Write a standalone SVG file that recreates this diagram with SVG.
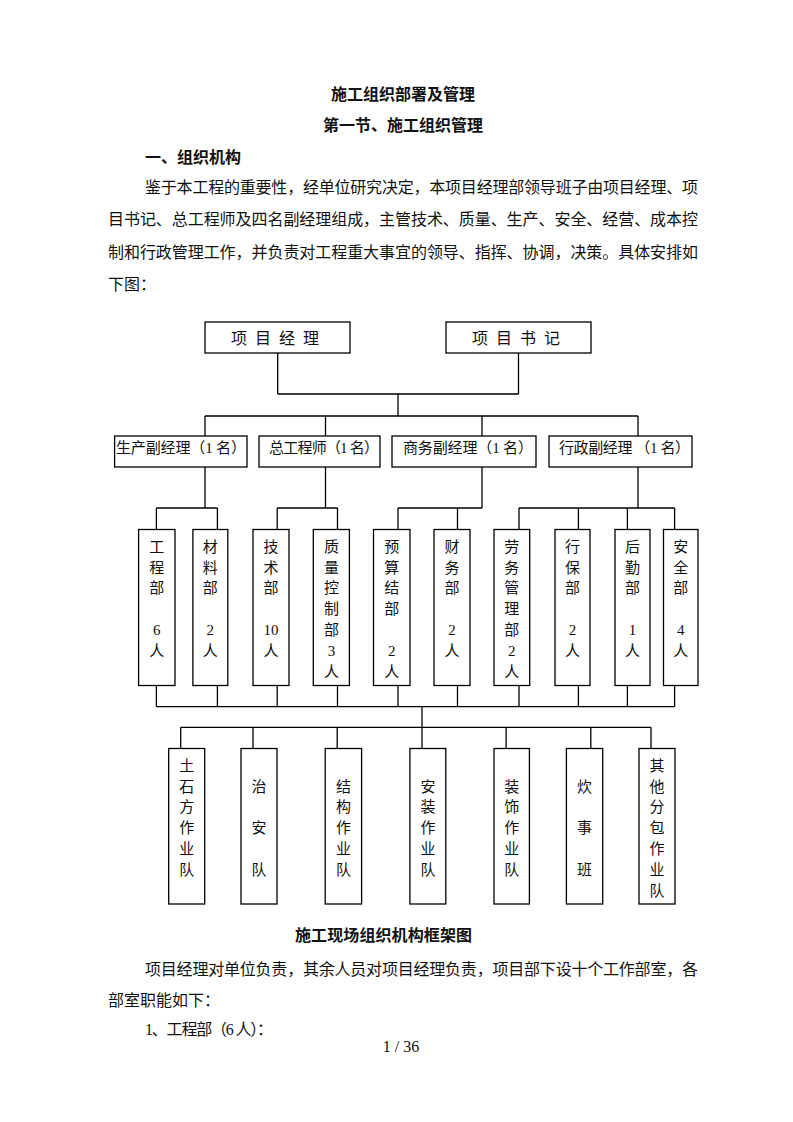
<svg xmlns="http://www.w3.org/2000/svg" width="793" height="1122" viewBox="0 0 793 1122">
<style>
.bg{fill:#fff}
.box{fill:#fff;stroke:#000;stroke-width:1.3}
.ln{fill:none;stroke:#000;stroke-width:1.3}
text{font-family:"Liberation Serif","Noto Sans CJK SC",serif;fill:#111}
.h{font-size:16px;font-weight:bold}
.p{font-size:16px}
.n{font-size:15px}
.v{font-size:15px;text-anchor:middle}
.t{font-size:16px;text-anchor:middle}
</style>
<rect class="bg" x="0" y="0" width="793" height="1122"/>
<g id="page-text">
<text class="h" x="331" y="100" textLength="144">施工组织部署及管理</text>
<text class="h" x="323" y="131" textLength="160">第一节、施工组织管理</text>
<text class="h" x="145" y="163">一、组织机构</text>
<text class="p" x="145" y="193" textLength="553">鉴于本工程的重要性，经单位研究决定，本项目经理部领导班子由项目经理、项</text>
<text class="p" x="108" y="225" textLength="590">目书记、总工程师及四名副经理组成，主管技术、质量、生产、安全、经营、成本控</text>
<text class="p" x="108" y="258" textLength="590">制和行政管理工作，并负责对工程重大事宜的领导、指挥、协调，决策。具体安排如</text>
<text class="p" x="108" y="290">下图：</text>
<text class="h" x="295" y="941" textLength="177">施工现场组织机构框架图</text>
<text class="p" x="145" y="975" textLength="553">项目经理对单位负责，其余人员对项目经理负责，项目部下设十个工作部室，各</text>
<text class="p" x="108" y="1006">部室职能如下：</text>
<text class="p" x="145" y="1035" textLength="128">1、工程部（6 人）：</text>
<text class="p" x="401" y="1052" text-anchor="middle">1 / 36</text>
</g>
<g id="connectors">
<path class="ln" d="M277.7 353V394M518.5 353V394M277.7 394H518.5M398 394V416M205 416H638M205 416V436M325.5 416V436M482 416V436M638 416V436"/>
<path class="ln" d="M205 467V508M156.4 508H217.4M156.4 508V529.5M217.4 508V529.5"/>
<path class="ln" d="M325.5 467V508M277.2 508H337.5M277.2 508V529.5M337.5 508V529.5"/>
<path class="ln" d="M482 467V508M398 508H482M398 508V529.5M457.5 508V529.5"/>
<path class="ln" d="M638 467V508M519 508H674.6M519 508V529.5M578.4 508V529.5M627.4 508V529.5M674.6 508V529.5"/>
<path class="ln" d="M156.4 685.5V706.7M217.4 685.5V706.7M277.2 685.5V706.7M337.5 685.5V706.7M398 685.5V706.7M457.5 685.5V706.7M519 685.5V706.7M578.4 685.5V706.7M627.4 685.5V706.7M674.6 685.5V706.7M156.4 706.7H674.6"/>
<path class="ln" d="M422 706.7V727.3M180.7 727.3H651M180.7 727.3V748.5M253 727.3V748.5M337.2 727.3V748.5M422 727.3V748.5M506.1 727.3V748.5M590.8 727.3V748.5M651 727.3V748.5"/>
</g>
<g id="n-pm"><rect class="box" x="205" y="322" width="145" height="31"/><text class="t" x="239 263 287 311" y="344">项目经理</text></g>
<g id="n-sec"><rect class="box" x="446" y="322" width="145" height="31"/><text class="t" x="480 504 528 552" y="344">项目书记</text></g>
<g id="n-prod"><rect class="box" x="114.6" y="436" width="132.4" height="31"/><text class="n" x="116" y="452.5" textLength="130">生产副经理（1 名）</text></g>
<g id="n-chief"><rect class="box" x="259" y="436" width="121" height="31"/><text class="n" x="269" y="452.5" textLength="110">总工程师（1 名）</text></g>
<g id="n-biz"><rect class="box" x="392" y="436" width="144" height="31"/><text class="n" x="403" y="452.5" textLength="130">商务副经理（1 名）</text></g>
<g id="n-admin"><rect class="box" x="549" y="436" width="143" height="31"/><text class="n" x="559" y="452.5" textLength="131">行政副经理 （1 名）</text></g>
<g id="d-eng"><rect class="box" x="138.6" y="529.5" width="36.4" height="156"/><text class="v"><tspan x="156.8" y="551.7">工</tspan><tspan x="156.8" y="572.5">程</tspan><tspan x="156.8" y="593.3">部</tspan><tspan x="156.8" y="634.9">6</tspan><tspan x="156.8" y="655.7">人</tspan></text></g>
<g id="d-mat"><rect class="box" x="192.9" y="529.5" width="34.9" height="156"/><text class="v"><tspan x="210.3" y="551.7">材</tspan><tspan x="210.3" y="572.5">料</tspan><tspan x="210.3" y="593.3">部</tspan><tspan x="210.3" y="634.9">2</tspan><tspan x="210.3" y="655.7">人</tspan></text></g>
<g id="d-tech"><rect class="box" x="253" y="529.5" width="36" height="156"/><text class="v"><tspan x="271" y="551.7">技</tspan><tspan x="271" y="572.5">术</tspan><tspan x="271" y="593.3">部</tspan><tspan x="271" y="634.9">10</tspan><tspan x="271" y="655.7">人</tspan></text></g>
<g id="d-qc"><rect class="box" x="313.3" y="529.5" width="36.1" height="156"/><text class="v"><tspan x="331.4" y="551.7">质</tspan><tspan x="331.4" y="572.5">量</tspan><tspan x="331.4" y="593.3">控</tspan><tspan x="331.4" y="614.1">制</tspan><tspan x="331.4" y="634.9">部</tspan><tspan x="331.4" y="655.7">3</tspan><tspan x="331.4" y="676.5">人</tspan></text></g>
<g id="d-budget"><rect class="box" x="373.5" y="529.5" width="36.5" height="156"/><text class="v"><tspan x="391.7" y="551.7">预</tspan><tspan x="391.7" y="572.5">算</tspan><tspan x="391.7" y="593.3">结</tspan><tspan x="391.7" y="614.1">部</tspan><tspan x="391.7" y="655.7">2</tspan><tspan x="391.7" y="676.5">人</tspan></text></g>
<g id="d-fin"><rect class="box" x="434" y="529.5" width="36" height="156"/><text class="v"><tspan x="452" y="551.7">财</tspan><tspan x="452" y="572.5">务</tspan><tspan x="452" y="593.3">部</tspan><tspan x="452" y="634.9">2</tspan><tspan x="452" y="655.7">人</tspan></text></g>
<g id="d-labor"><rect class="box" x="494" y="529.5" width="35.7" height="156"/><text class="v"><tspan x="511.8" y="551.7">劳</tspan><tspan x="511.8" y="572.5">务</tspan><tspan x="511.8" y="593.3">管</tspan><tspan x="511.8" y="614.1">理</tspan><tspan x="511.8" y="634.9">部</tspan><tspan x="511.8" y="655.7">2</tspan><tspan x="511.8" y="676.5">人</tspan></text></g>
<g id="d-sec"><rect class="box" x="555" y="529.5" width="35" height="156"/><text class="v"><tspan x="572.5" y="551.7">行</tspan><tspan x="572.5" y="572.5">保</tspan><tspan x="572.5" y="593.3">部</tspan><tspan x="572.5" y="634.9">2</tspan><tspan x="572.5" y="655.7">人</tspan></text></g>
<g id="d-log"><rect class="box" x="615" y="529.5" width="35" height="156"/><text class="v"><tspan x="632.5" y="551.7">后</tspan><tspan x="632.5" y="572.5">勤</tspan><tspan x="632.5" y="593.3">部</tspan><tspan x="632.5" y="634.9">1</tspan><tspan x="632.5" y="655.7">人</tspan></text></g>
<g id="d-safe"><rect class="box" x="663.5" y="529.5" width="34.5" height="156"/><text class="v"><tspan x="680.7" y="551.7">安</tspan><tspan x="680.7" y="572.5">全</tspan><tspan x="680.7" y="593.3">部</tspan><tspan x="680.7" y="634.9">4</tspan><tspan x="680.7" y="655.7">人</tspan></text></g>
<g id="t-earth"><rect class="box" x="168.7" y="748.5" width="36" height="155.5"/><text class="v"><tspan x="186.7" y="770.7">土</tspan><tspan x="186.7" y="791.5">石</tspan><tspan x="186.7" y="812.3">方</tspan><tspan x="186.7" y="833.1">作</tspan><tspan x="186.7" y="853.9">业</tspan><tspan x="186.7" y="874.7">队</tspan></text></g>
<g id="t-guard"><rect class="box" x="241" y="748.5" width="36" height="155.5"/><text class="v"><tspan x="259" y="791.5">治</tspan><tspan x="259" y="833.1">安</tspan><tspan x="259" y="874.7">队</tspan></text></g>
<g id="t-struct"><rect class="box" x="325.2" y="748.5" width="36.4" height="155.5"/><text class="v"><tspan x="343.4" y="791.5">结</tspan><tspan x="343.4" y="812.3">构</tspan><tspan x="343.4" y="833.1">作</tspan><tspan x="343.4" y="853.9">业</tspan><tspan x="343.4" y="874.7">队</tspan></text></g>
<g id="t-install"><rect class="box" x="409.9" y="748.5" width="35.9" height="155.5"/><text class="v"><tspan x="427.9" y="791.5">安</tspan><tspan x="427.9" y="812.3">装</tspan><tspan x="427.9" y="833.1">作</tspan><tspan x="427.9" y="853.9">业</tspan><tspan x="427.9" y="874.7">队</tspan></text></g>
<g id="t-deco"><rect class="box" x="494" y="748.5" width="35.4" height="155.5"/><text class="v"><tspan x="511.7" y="791.5">装</tspan><tspan x="511.7" y="812.3">饰</tspan><tspan x="511.7" y="833.1">作</tspan><tspan x="511.7" y="853.9">业</tspan><tspan x="511.7" y="874.7">队</tspan></text></g>
<g id="t-cook"><rect class="box" x="566.4" y="748.5" width="36.3" height="155.5"/><text class="v"><tspan x="584.5" y="791.5">炊</tspan><tspan x="584.5" y="833.1">事</tspan><tspan x="584.5" y="874.7">班</tspan></text></g>
<g id="t-other"><rect class="box" x="639" y="748.5" width="36" height="155.5"/><text class="v"><tspan x="657" y="770.7">其</tspan><tspan x="657" y="791.5">他</tspan><tspan x="657" y="812.3">分</tspan><tspan x="657" y="833.1">包</tspan><tspan x="657" y="853.9">作</tspan><tspan x="657" y="874.7">业</tspan><tspan x="657" y="895.5">队</tspan></text></g>
</svg>
